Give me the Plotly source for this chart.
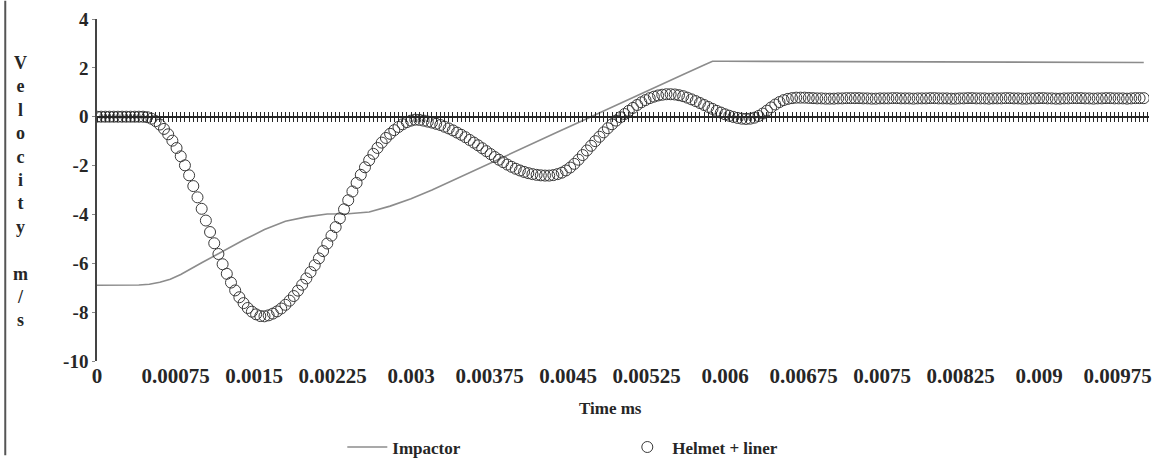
import plotly.graph_objects as go

# Helmet + liner velocity (m/s), sampled every 0.00004 s from t = 0
helmet_velocity = [
    0.00, 0.00, 0.00, 0.00, 0.00, 0.00, 0.00, 0.00, 0.00, 0.00,
    0.00, 0.00, -0.02, -0.08, -0.18, -0.32, -0.50, -0.72, -0.98, -1.28,
    -1.62, -1.99, -2.40, -2.84, -3.30, -3.77, -4.25, -4.72, -5.18, -5.62,
    -6.04, -6.43, -6.79, -7.11, -7.39, -7.63, -7.83, -7.98, -8.09, -8.16,
    -8.17, -8.13, -8.06, -7.97, -7.85, -7.70, -7.53, -7.34, -7.12, -6.88,
    -6.62, -6.36, -6.08, -5.80, -5.50, -5.19, -4.87, -4.52, -4.16, -3.79,
    -3.42, -3.06, -2.71, -2.38, -2.07, -1.78, -1.52, -1.28, -1.06, -0.87,
    -0.70, -0.55, -0.42, -0.31, -0.22, -0.16, -0.12, -0.13, -0.16, -0.20,
    -0.24, -0.29, -0.34, -0.41, -0.48, -0.56, -0.65, -0.74, -0.84, -0.95,
    -1.06, -1.17, -1.29, -1.41, -1.53, -1.65, -1.76, -1.86, -1.96, -2.05,
    -2.13, -2.20, -2.26, -2.31, -2.35, -2.38, -2.40, -2.41, -2.41, -2.39,
    -2.35, -2.29, -2.20, -2.08, -1.93, -1.76, -1.57, -1.38, -1.19, -1.00,
    -0.82, -0.64, -0.47, -0.31, -0.16, -0.02, 0.11, 0.24, 0.36, 0.48,
    0.59, 0.68, 0.76, 0.82, 0.87, 0.90, 0.92, 0.92, 0.91, 0.88,
    0.84, 0.78, 0.71, 0.64, 0.56, 0.48, 0.40, 0.32, 0.24, 0.17,
    0.10, 0.04, -0.01, -0.05, -0.08, -0.09, -0.08, -0.04, 0.03, 0.13,
    0.25, 0.38, 0.50, 0.60, 0.68, 0.73, 0.76, 0.78, 0.78, 0.78,
    0.77, 0.76, 0.75, 0.75, 0.74, 0.74, 0.74, 0.75, 0.75, 0.76,
    0.76, 0.76, 0.76, 0.75, 0.75, 0.74, 0.74, 0.75, 0.75, 0.75,
    0.76, 0.76, 0.75, 0.75, 0.75, 0.74, 0.75, 0.75, 0.75, 0.76,
    0.76, 0.75, 0.75, 0.75, 0.74, 0.74, 0.75, 0.75, 0.76, 0.76,
    0.75, 0.75, 0.75, 0.74, 0.75, 0.75, 0.75, 0.76, 0.76, 0.75,
    0.75, 0.74, 0.74, 0.75, 0.75, 0.76, 0.76, 0.75, 0.75, 0.74,
    0.74, 0.75, 0.75, 0.76, 0.76, 0.76, 0.75, 0.75, 0.74, 0.75,
    0.75, 0.76, 0.76, 0.75, 0.75, 0.75, 0.74, 0.75, 0.76, 0.76,
    0.76,
]
sample_step = 0.00004
helmet_time = [i * sample_step for i in range(len(helmet_velocity))]

# Impactor velocity (m/s)
impactor_time = [
    0.0, 0.0002, 0.0004, 0.0005, 0.0006, 0.0007, 0.0008, 0.0010, 0.0012,
    0.0014, 0.0016, 0.0018, 0.0020, 0.0022, 0.0024, 0.0026, 0.0028, 0.0030,
    0.0032, 0.0034, 0.0036, 0.0038, 0.0040, 0.0042, 0.0044, 0.0046, 0.0048,
    0.0050, 0.0052, 0.0054, 0.0056, 0.0058, 0.00588, 0.0060, 0.0070, 0.0080,
    0.0090, 0.0100,
]
impactor_velocity = [
    -6.90, -6.90, -6.89, -6.86, -6.78, -6.65, -6.46, -5.98, -5.50,
    -5.05, -4.62, -4.28, -4.10, -3.98, -3.97, -3.90, -3.66, -3.36,
    -3.00, -2.60, -2.21, -1.82, -1.42, -1.03, -0.63, -0.24, 0.16,
    0.55, 0.94, 1.34, 1.73, 2.12, 2.27, 2.27, 2.26, 2.25,
    2.24, 2.22,
]

x_tick_labels = ["0", "0.00075", "0.0015", "0.00225", "0.003", "0.00375",
                 "0.0045", "0.00525", "0.006", "0.00675", "0.0075",
                 "0.00825", "0.009", "0.00975"]
x_tick_values = [float(s) for s in x_tick_labels]
y_tick_labels = ["4", "2", "0", "-2", "-4", "-6", "-8", "-10"]
y_tick_values = [int(s) for s in y_tick_labels]

x_range = [0, 0.01005]
y_range = [-10, 4]

SERIF = "Liberation Serif, Times New Roman, serif"
INK = "#262626"

W, H = 1159, 473
M_L, M_R, M_T, M_B = 97, 7, 19, 98
plot_w = W - M_L - M_R
plot_h = H - M_T - M_B


def px_to_paper_x(px):
    return (px - M_L) / plot_w


def px_to_paper_y(py):
    return (H - M_B - py) / plot_h


fig = go.Figure()

fig.add_trace(go.Scatter(
    x=impactor_time, y=impactor_velocity, name="Impactor",
    mode="lines", line=dict(color="#8c8c8c", width=1.6),
))
fig.add_trace(go.Scatter(
    x=helmet_time, y=helmet_velocity, name="Helmet + liner",
    mode="markers",
    marker=dict(symbol="circle-open", size=11, color="#3a3a3a",
                line=dict(width=1)),
))
# empty traces that bind the zero-crossing axes (cross tick marks)
for ax in ("x2", "x3"):
    fig.add_trace(go.Scatter(x=[], y=[], xaxis=ax, yaxis="y",
                             showlegend=False, hoverinfo="skip"))

zero_pos = (0 - y_range[0]) / (y_range[1] - y_range[0])
cross_axis = dict(
    overlaying="x", anchor="free", position=zero_pos, range=x_range,
    showline=True, linecolor=INK, linewidth=1.6,
    tickmode="linear", tick0=0, dtick=sample_step,
    ticklen=4, tickwidth=1.4, tickcolor=INK,
    showticklabels=False, showgrid=False, zeroline=False,
)

fig.update_layout(
    width=W, height=H,
    margin=dict(l=M_L, r=M_R, t=M_T, b=M_B),
    paper_bgcolor="white", plot_bgcolor="white",
    font=dict(family=SERIF, color=INK, size=18, weight=700),
    xaxis=dict(
        range=x_range, tickmode="array", tickvals=x_tick_values,
        ticktext=x_tick_labels, showline=False, ticks="",
        showgrid=False, zeroline=False,
        tickfont=dict(family=SERIF, size=21, color=INK, weight=700),
    ),
    xaxis2=dict(cross_axis, ticks="outside"),
    xaxis3=dict(cross_axis, ticks="inside"),
    yaxis=dict(
        range=y_range, tickmode="array", tickvals=y_tick_values,
        ticktext=y_tick_labels,
        showline=True, linecolor="#444", linewidth=1.6,
        ticks="outside", ticklen=3, tickcolor="#888", tickwidth=1,
        showgrid=False, zeroline=False,
        tickfont=dict(family=SERIF, size=19, color=INK, weight=700),
    ),
    legend=dict(
        orientation="h", x=px_to_paper_x(343), xanchor="left",
        y=px_to_paper_y(465), yanchor="middle",
        font=dict(family=SERIF, size=17, color=INK, weight=700),
        itemwidth=40, entrywidth=225, entrywidthmode="pixels",
        bgcolor="rgba(0,0,0,0)",
    ),
    showlegend=True,
)

# stacked-letter y-axis title
fig.add_annotation(
    text="<br>".join(list("Velocity") + ["\u00a0"] + list("m/s")),
    xref="paper", yref="paper",
    x=px_to_paper_x(20), y=px_to_paper_y(199),
    xanchor="center", yanchor="middle", showarrow=False, align="center",
    font=dict(family=SERIF, size=18, color=INK, weight=700),
)
fig.add_annotation(
    text="Time ms", xref="paper", yref="paper",
    x=px_to_paper_x(612), y=px_to_paper_y(424),
    xanchor="center", yanchor="middle", showarrow=False,
    font=dict(family=SERIF, size=17, color=INK, weight=700),
)
# left page border
fig.add_shape(
    type="line", xref="paper", yref="paper",
    x0=px_to_paper_x(5), x1=px_to_paper_x(5),
    y0=px_to_paper_y(0), y1=px_to_paper_y(H),
    line=dict(color="#555", width=2),
)

fig.write_html("out.html")
